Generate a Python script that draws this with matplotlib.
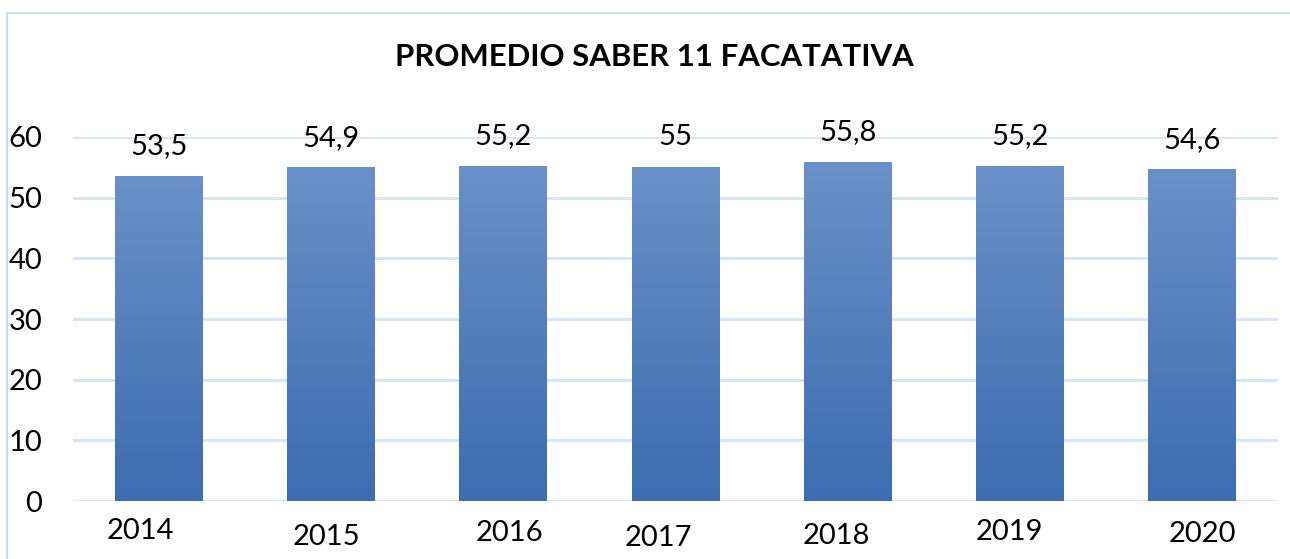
import matplotlib
matplotlib.use("Agg")
import matplotlib.pyplot as plt
import matplotlib.colors as mcolors
from matplotlib.patches import Rectangle
import numpy as np

plt.rcParams['font.family'] = ['Lato', 'DejaVu Sans']

years = ["2014", "2015", "2016", "2017", "2018", "2019", "2020"]
scores = [53.5, 54.9, 55.2, 55.0, 55.8, 55.2, 54.6]
score_labels = ["53,5", "54,9", "55,2", "55", "55,8", "55,2", "54,6"]
y_ticks = [0, 10, 20, 30, 40, 50, 60]

# the year labels in the source sit a bit off, (dx, dy) in pixels
year_shift = [(-19, -30), (-5, -36), (6, -32), (-17, -37), (-11, -35), (-10, -31), (10, -33)]

top_col = "#6a90c8"
bot_col = "#3b6db0"
grid_col = "#d6e3f3"

fig = plt.figure(figsize=(12.9, 5.59), dpi=100)
ax = fig.add_axes([73 / 1290, 1 - 501 / 559, (1278 - 73) / 1290, (501 - 137) / 559])

# chart frame
fig.patches.append(Rectangle((7 / 1290, -0.1), 1.2, 1 - 13 / 559 + 0.1,
                             transform=fig.transFigure, fill=False,
                             edgecolor="#cfdff2", linewidth=1.5))

x = np.arange(len(years))
bars = ax.bar(x, scores, width=0.51, color="none", zorder=3)

cmap = mcolors.LinearSegmentedColormap.from_list("g", [bot_col, top_col])
grad = np.linspace(0, 1, 256).reshape(-1, 1)
for b in bars:
    x0, w, h = b.get_x(), b.get_width(), b.get_height()
    ax.imshow(grad, cmap=cmap, origin="lower", aspect="auto",
              extent=(x0, x0 + w, 0, h), zorder=3)

for i, v in enumerate(scores):
    ax.annotate(score_labels[i], (x[i], v), xytext=(0, 30), textcoords="offset pixels",
                ha="center", va="center", fontsize=21, color="black", annotation_clip=False)

for i, yr in enumerate(years):
    dx, dy = year_shift[i]
    ax.annotate(yr, (x[i], 0), xytext=(dx, dy), textcoords="offset pixels",
                ha="center", va="center", fontsize=21, color="black", annotation_clip=False)

ax.set_xlim(-0.5, len(years) - 0.5)
ax.set_ylim(0, 60)
ax.set_yticks(y_ticks)
ax.set_xticks([])
ax.tick_params(axis="y", length=0, pad=22, labelsize=21)
ax.yaxis.grid(True, color=grid_col, linewidth=2)
ax.set_axisbelow(True)
for s in ax.spines.values():
    s.set_visible(False)

fig.text(654 / 1290, 1 - 57 / 559, "PROMEDIO SABER 11 FACATATIVA", ha="center", va="center",
         fontsize=22.4, fontweight="bold")

fig.savefig("out.png", dpi=100)
